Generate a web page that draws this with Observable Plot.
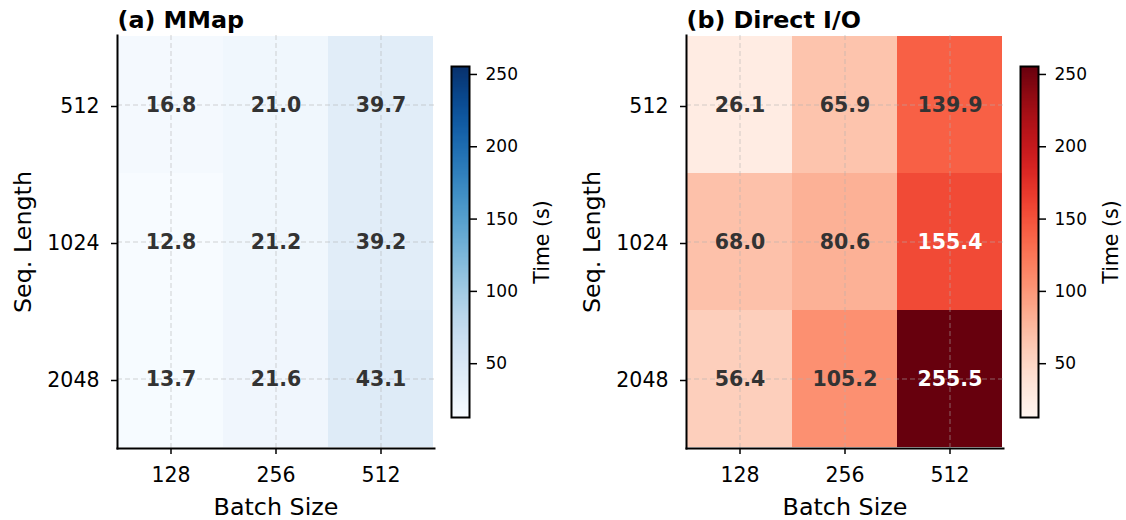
<!DOCTYPE html>
<html>
<head>
<meta charset="utf-8">
<script src="https://cdn.jsdelivr.net/npm/d3@7"></script>
<script src="https://cdn.jsdelivr.net/npm/@observablehq/plot@0.6"></script>
<style>
  html, body { margin: 0; padding: 0; background: white; }
  #chart { position: relative; width: 1126px; height: 520px; overflow: hidden; background: white; }
  #chart svg { position: absolute; top: 0; background: transparent; }
</style>
</head>
<body>
<div id="chart"></div>
<script>
const batchSizes = ["128", "256", "512"];
const seqLengths = ["512", "1024", "2048"];
// rows: seq length 512, 1024, 2048; columns: batch size 128, 256, 512
const mmapTimes = [
  [16.8, 21.0, 39.7],
  [12.8, 21.2, 39.2],
  [13.7, 21.6, 43.1]
];
const directTimes = [
  [26.1, 65.9, 139.9],
  [68.0, 80.6, 155.4],
  [56.4, 105.2, 255.5]
];
const colorbarTicks = [50, 100, 150, 200, 250];
const panelTitles = ["(a) MMap", "(b) Direct I/O"];
const xLabel = "Batch Size";
const yLabel = "Seq. Length";
const cbarLabel = "Time (s)";

const allVals = mmapTimes.flat().concat(directTimes.flat());
const vmin = d3.min(allVals);
const vmax = d3.max(allVals);
const threshold = vmax * 0.6;
const FONT = "DejaVu Sans";

function heatmap(data, scheme, title) {
  const cells = [];
  seqLengths.forEach((s, i) => batchSizes.forEach((b, j) => cells.push({s, b, v: data[i][j]})));
  const textOpts = {x: "b", y: "s", text: d => d.v.toFixed(1), fontWeight: "bold", fontSize: 20.5, dy: 0};
  return Plot.plot({
    width: 450, height: 520,
    marginLeft: 117, marginRight: 16, marginTop: 35, marginBottom: 72,
    style: {fontFamily: FONT, color: "black", background: "transparent"},
    x: {type: "band", domain: batchSizes, padding: 0},
    y: {type: "band", domain: seqLengths, padding: 0},
    color: {type: "linear", scheme, domain: [vmin, vmax]},
    marks: [
      Plot.cell(cells, {x: "b", y: "s", fill: "v", inset: 0, shapeRendering: "crispEdges"}),
      Plot.gridX({stroke: "#b0b0b0", strokeOpacity: 0.55, strokeDasharray: "5,3", strokeWidth: 1}),
      Plot.gridY({stroke: "#b0b0b0", strokeOpacity: 0.55, strokeDasharray: "5,3", strokeWidth: 1}),
      Plot.text(cells.filter(d => d.v <= threshold), {...textOpts, fill: "#333333"}),
      Plot.text(cells.filter(d => d.v > threshold), {...textOpts, fill: "white"}),
      Plot.axisX({tickSize: 6, tickPadding: 13, fontSize: 20.5, label: null, strokeWidth: 1.5}),
      Plot.axisY({tickSize: 6, tickPadding: 12, fontSize: 20.5, label: null, strokeWidth: 1.5, dy: 1.5}),
      Plot.frame({anchor: "left", stroke: "black", strokeWidth: 2}),
      Plot.frame({anchor: "bottom", stroke: "black", strokeWidth: 2}),
      Plot.text([title], {frameAnchor: "top-left", textAnchor: "start", lineAnchor: "bottom", dy: -8, fontWeight: "bold", fontSize: 23.8, fill: "black"}),
      Plot.text([xLabel], {frameAnchor: "bottom", textAnchor: "middle", lineAnchor: "bottom", dy: 66, fontSize: 23.8, fill: "black"}),
      Plot.text([yLabel], {frameAnchor: "left", rotate: -90, textAnchor: "middle", lineAnchor: "bottom", dx: -87, fontSize: 23.8, fill: "black"})
    ]
  });
}

function colorbar(scheme) {
  const n = 300;
  const step = (vmax - vmin) / n;
  const stops = d3.range(n).map(i => vmin + step * i);
  return Plot.plot({
    width: 117, height: 520,
    marginLeft: 11, marginRight: 88, marginTop: 66, marginBottom: 103,
    style: {fontFamily: FONT, color: "black", background: "transparent"},
    y: {type: "linear", domain: [vmin, vmax]},
    color: {type: "linear", scheme, domain: [vmin, vmax]},
    marks: [
      Plot.rect(stops, {y1: d => d, y2: d => Math.min(vmax, d + step * 1.5), fill: d => d + step / 2, shapeRendering: "crispEdges"}),
      Plot.frame({stroke: "black", strokeWidth: 2}),
      Plot.axisY(colorbarTicks, {anchor: "right", tickSize: 7, tickPadding: 9, fontSize: 17, label: null, strokeWidth: 1.5}),
      Plot.text([cbarLabel], {frameAnchor: "right", rotate: -90, textAnchor: "middle", lineAnchor: "bottom", dx: 79, fontSize: 20.5, fill: "black"})
    ]
  });
}

const chart = document.getElementById("chart");
const parts = [
  [heatmap(mmapTimes, "blues", panelTitles[0]), 0],
  [colorbar("blues"), 440],
  [heatmap(directTimes, "reds", panelTitles[1]), 569],
  [colorbar("reds"), 1009]
];
for (const [el, left] of parts) {
  el.style.left = left + "px";
  chart.appendChild(el);
}
</script>
</body>
</html>
